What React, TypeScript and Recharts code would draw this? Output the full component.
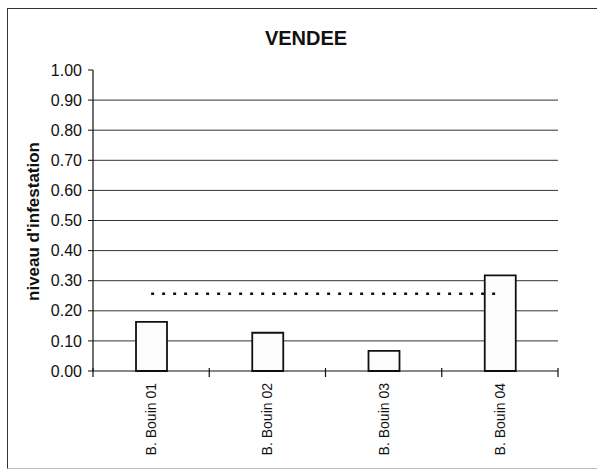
import React from "react";
import { ComposedChart, Bar, Line, XAxis, YAxis, CartesianGrid, Label } from "recharts";

const categories = ["B. Bouin 01", "B. Bouin 02", "B. Bouin 03", "B. Bouin 04"];
const infestation = [0.163, 0.127, 0.067, 0.318];
const moyenne = [0.257, 0.257, 0.257, 0.257];
const yTicks = [0, 0.1, 0.2, 0.3, 0.4, 0.5, 0.6, 0.7, 0.8, 0.9, 1.0];
const gridValues = [0.1, 0.2, 0.3, 0.4, 0.5, 0.6, 0.7, 0.8, 0.9];

const data = categories.map((c, i) => ({ name: c, value: infestation[i], mean: moyenne[i] }));

const FONT = "'Liberation Sans', Arial, sans-serif";
const W = 597;
const H = 471;
const M = { top: 70, right: 39, bottom: 8, left: 33 };
const Y_W = 60;
const X_H = 92;
const HALF_BAND = (W - M.left - M.right - Y_W) / categories.length / 2;

const CatTick = (props: any) => {
  const { x, y, payload, index } = props;
  const axisY = y - 8;
  const isLast = index === categories.length - 1;
  return (
    <g>
      <line x1={x - HALF_BAND} x2={x - HALF_BAND} y1={axisY - 3} y2={axisY + 6} stroke="#111" strokeWidth={1.2} />
      {isLast && (
        <line x1={x + HALF_BAND} x2={x + HALF_BAND} y1={axisY - 3} y2={axisY + 6} stroke="#111" strokeWidth={1.2} />
      )}
      <text
        x={0}
        y={0}
        transform={`translate(${x + 5},${axisY + 12}) rotate(-90)`}
        textAnchor="end"
        fontFamily={FONT}
        fontSize={14}
        fill="#111"
      >
        {payload.value}
      </text>
    </g>
  );
};

export default function App() {
  return (
    <div style={{ position: "absolute", left: 0, top: 0, width: W, height: H, background: "#fff", overflow: "hidden" }}>
      <div
        style={{
          position: "absolute",
          left: 7,
          top: 8,
          width: 620,
          height: 459,
          borderLeft: "1.5px solid #333",
          borderTop: "1.5px solid #333",
          borderBottom: "1px solid #bbb",
        }}
      />
      <div
        style={{
          position: "absolute",
          left: 206,
          width: 200,
          top: 27,
          textAlign: "center",
          fontFamily: FONT,
          fontWeight: "bold",
          fontSize: 20,
          color: "#111",
        }}
      >
        VENDEE
      </div>
      <div style={{ position: "absolute", left: 0, top: 0 }}>
        <ComposedChart width={W} height={H} data={data} margin={M}>
          <CartesianGrid horizontal={true} vertical={false} horizontalValues={gridValues} stroke="#333" strokeWidth={1} />
          <XAxis
            dataKey="name"
            height={X_H}
            axisLine={{ stroke: "#111", strokeWidth: 1.2 }}
            tickLine={false}
            tick={<CatTick />}
            interval={0}
          />
          <YAxis
            width={Y_W}
            domain={[0, 1]}
            ticks={yTicks}
            tickFormatter={(v: number) => v.toFixed(2)}
            axisLine={{ stroke: "#111", strokeWidth: 1.2 }}
            tickLine={{ stroke: "#111" }}
            tickSize={5}
            tickMargin={6}
            tick={{ fontFamily: FONT, fontSize: 16, fill: "#111" }}
            interval={0}
          >
            <Label
              content={(p: any) => {
                const vb = p.viewBox || {};
                const cy = vb.y + vb.height / 2 + 1;
                return (
                  <text
                    x={0}
                    y={0}
                    transform={`translate(39,${cy}) rotate(-90)`}
                    textAnchor="middle"
                    fontFamily={FONT}
                    fontWeight="bold"
                    fontSize={17}
                    fill="#111"
                  >
                    niveau d'infestation
                  </text>
                );
              }}
            />
          </YAxis>
          <Bar dataKey="value" barSize={31} fill="#fcfcfc" stroke="#111" strokeWidth={1.8} isAnimationActive={false} />
          <Line
            dataKey="mean"
            stroke="#111"
            strokeWidth={2.5}
            strokeDasharray="3 8"
            dot={false}
            activeDot={false}
            isAnimationActive={false}
          />
        </ComposedChart>
      </div>
    </div>
  );
}
